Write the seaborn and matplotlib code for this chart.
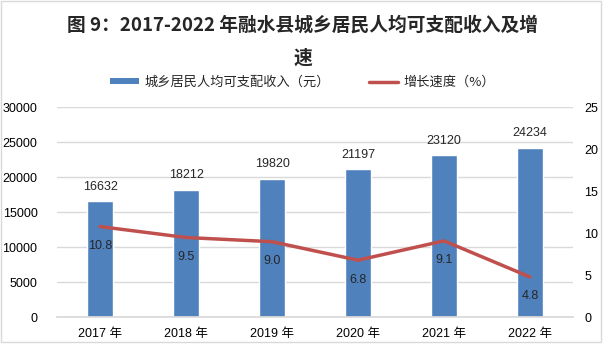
import matplotlib
matplotlib.use("Agg")
import matplotlib.pyplot as plt
import seaborn as sns
import pandas as pd
from matplotlib.patches import Patch, Rectangle
from matplotlib.lines import Line2D

years = ["2017 年", "2018 年", "2019 年", "2020 年", "2021 年", "2022 年"]
income = [16632, 18212, 19820, 21197, 23120, 24234]
growth = [10.8, 9.5, 9.0, 6.8, 9.1, 4.8]
title = "图 9：2017-2022 年融水县城乡居民人均可支配收入及增\n速"
bar_label = "城乡居民人均可支配收入（元）"
line_label = "增长速度（%）"

sns.set_theme(style="white")
plt.rcParams["font.family"] = ["Liberation Sans", "Noto Sans CJK SC", "DejaVu Sans"]
CJK = ["Noto Sans CJK SC", "DejaVu Sans"]

BAR_C = "#4F81BD"
LINE_C = "#C0504D"
GRID_C = "#D9D9D9"

df = pd.DataFrame({"year": years, "income": income, "growth": growth})

fig = plt.figure(figsize=(6.05, 3.46), dpi=100)
ax = fig.add_axes([57 / 605, 1 - 317.3 / 346, 516 / 605, 210 / 346])

sns.barplot(data=df, x="year", y="income", color=BAR_C, width=0.31,
            saturation=1, ax=ax, zorder=2)
ax.set_ylim(0, 30000)
ax.set_yticks(range(0, 30001, 5000))
ax.set_xlim(-0.5, 5.5)
ax.grid(axis="y", color=GRID_C, linewidth=1, zorder=0)
ax.set_axisbelow(True)
ax.set_xlabel("")
ax.set_ylabel("")
for s in ["top", "left", "right"]:
    ax.spines[s].set_visible(False)
ax.spines["bottom"].set_color(GRID_C)
ax.tick_params(axis="both", length=0, labelsize=9, colors="#000000")
ax.tick_params(axis="x", pad=8)
ax.tick_params(axis="y", pad=14)
for c in ax.containers:
    ax.bar_label(c, labels=[str(v) for v in income], padding=6, fontsize=9)

ax2 = ax.twinx()
sns.lineplot(data=df, x="year", y="growth", color=LINE_C, linewidth=2.5,
             ax=ax2, sort=False)
ax2.set_ylim(0, 25)
ax2.set_yticks(range(0, 26, 5))
ax2.set_ylabel("")
ax2.set_xlabel("")
for s in ["top", "left", "right", "bottom"]:
    ax2.spines[s].set_visible(False)
ax2.tick_params(axis="y", length=0, labelsize=9, pad=8, colors="#000000")
for i, g in enumerate(growth):
    ax2.annotate(f"{g:.1f}", (i, g), xytext=(0, -14), textcoords="offset points",
                 ha="center", va="center", fontsize=9)

fig.text(0.5, 1 - 25 / 346, "图 9：2017-2022 年融水县城乡居民人均可支配收入及增",
         ha="center", va="center", fontsize=13.5, fontweight="bold", family=CJK)
fig.text(0.5, 1 - 58 / 346, "速", ha="center", va="center",
         fontsize=13.5, fontweight="bold", family=CJK)

handles = [Patch(facecolor=BAR_C, edgecolor="none"),
           Line2D([0], [0], color=LINE_C, linewidth=2.5)]
fig.legend(handles, [bar_label, line_label], loc="center",
           bbox_to_anchor=(0.5, 1 - 82.5 / 346), ncol=2, frameon=False,
           prop={"family": CJK, "size": 9.5}, handlelength=2.2,
           handleheight=0.35, columnspacing=3.0, handletextpad=0.4)

fig.patches.append(Rectangle((1 / 605, 4 / 346), 600 / 605, 341 / 346,
                             transform=fig.transFigure, fill=False,
                             edgecolor="#D9D9D9", linewidth=1))

fig.savefig("out.png", dpi=100)
